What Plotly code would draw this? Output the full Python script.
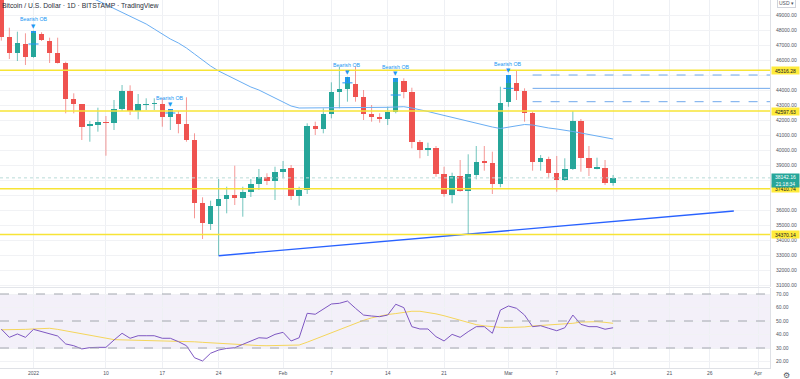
import pandas as pd
import plotly.graph_objects as go

# ---------------- data ----------------
dates = pd.date_range("2021-12-28", periods=77, freq="D")

opens = [50640, 47553, 46487, 47047, 46180, 47713, 47267, 46447, 45820, 43380,
         43047, 41600, 41687, 41867, 41780, 42733, 43953, 42580, 43020, 43080,
         43067, 42220, 42380, 41713, 40667, 36447, 35067, 36267, 36733, 36980,
         36820, 37180, 37733, 38180, 37953, 38513, 38820, 36953, 37333, 41600,
         41400, 42400, 43887, 44067, 44400, 43513, 42380, 42220, 42067, 42553,
         44600, 43887, 40513, 40000, 40113, 38380, 37000, 38267, 37287, 38333,
         39267, 39153, 37733, 43220, 44447, 43933, 42487, 39180, 39400, 38447,
         38000, 38733, 41953, 39447, 38753, 38820, 37780]
highs = [50700, 48153, 47887, 47780, 47953, 47850, 47487, 47487, 45887, 43780,
         43067, 41933, 42820, 42267, 43333, 44333, 44313, 43733, 43447, 43447,
         43447, 42713, 42600, 43513, 41113, 36847, 36620, 38067, 37553, 38953,
         37553, 38067, 38733, 38447, 38887, 39267, 39000, 37553, 41780, 41887,
         42780, 44513, 45553, 44887, 45553, 44000, 43000, 42447, 42887, 44780,
         44780, 44153, 40667, 40487, 40267, 38887, 38487, 39333, 39713, 40267,
         40267, 39887, 44220, 45000, 45316, 44113, 42553, 39667, 39553, 39600,
         39447, 42600, 42067, 40267, 39487, 39333, 38333]
lows = [47290, 46067, 45933, 45667, 46153, 47267, 45800, 45767, 42447, 42447,
        40667, 40553, 41220, 39620, 41333, 42600, 42333, 42047, 42667, 42667,
        41553, 41333, 41113, 40553, 35447, 34067, 34667, 32953, 35780, 36333,
        35553, 36867, 37333, 37667, 36667, 38113, 36667, 36287, 37067, 41000,
        41113, 42113, 42780, 43220, 43220, 42000, 41887, 41820, 41667, 42447,
        43447, 40113, 39447, 39600, 38220, 36887, 36447, 37220, 34330, 38047,
        38620, 37067, 37513, 42887, 43333, 41887, 38620, 38620, 38113, 37220,
        37933, 38667, 38553, 38267, 38713, 37667, 37620]
closes = [47533, 46487, 47113, 46180, 47780, 47333, 46447, 45820, 43420, 43067,
          41553, 41733, 41887, 41833, 42733, 43953, 42600, 43067, 43080, 43133,
          42220, 42553, 41733, 40667, 36487, 35113, 36287, 36733, 36980, 36820,
          37220, 37733, 38180, 37953, 38513, 38733, 36953, 37333, 41600, 41420,
          42400, 43847, 44067, 44447, 43513, 42400, 42220, 42067, 42553, 44553,
          43887, 40553, 40000, 40113, 38380, 37067, 38267, 37287, 38400, 39220,
          39153, 37713, 43153, 44447, 43933, 42487, 39180, 39447, 38447, 38000,
          38733, 41953, 39447, 38780, 38847, 37820, 38142.16]

ma_values = [None] * 11 + [
    50200, 49967, 49700, 49433, 49167, 48933, 48667, 48400, 48067, 47733,
    47400, 47133, 46800, 46400, 46000, 45600, 45267, 45000, 44733, 44467,
    44200, 44000, 43733, 43467, 43200, 42933, 42800, 42800, 42800, 42820,
    42833, 42833, 42833, 42847, 42820, 42800, 42820, 42847, 42867, 42887,
    42800, 42700, 42567, 42433, 42300, 42200, 42067, 41933, 41800, 41667,
    41533, 41433, 41533, 41633, 41700, 41667, 41553, 41467, 41400, 41333,
    41233, 41133, 41033, 40933, 40833, 40733]

rsi_values = [44.0, 37.9, 40.4, 37.9, 43.8, 42.1, 40.4, 38.9, 33.0, 31.7,
              29.3, 30.3, 30.5, 30.5, 35.9, 40.9, 37.2, 39.1, 39.1, 39.1,
              37.2, 37.2, 34.7, 31.7, 22.8, 20.4, 26.1, 28.5, 29.7, 30.2,
              32.7, 35.4, 37.6, 37.2, 40.1, 41.6, 35.2, 37.6, 55.7, 55.0,
              58.9, 62.6, 63.1, 64.8, 59.4, 54.4, 53.7, 53.2, 54.4, 62.4,
              59.9, 45.8, 44.1, 44.1, 38.4, 35.2, 40.1, 37.9, 42.1, 45.8,
              45.8, 40.9, 58.1, 61.1, 59.4, 54.4, 45.8, 46.5, 44.6, 42.8,
              45.0, 54.4, 47.5, 45.8, 45.8, 43.9, 45.0]
rsi_ma_values = [43.5, 43.5, 43.6, 43.8, 44.1, 44.5, 44.6, 43.8, 42.7, 41.6,
                 40.4, 39.3, 37.9, 36.8, 36.2, 36.0, 35.9, 35.8, 35.6, 35.5,
                 35.3, 35.2, 35.0, 34.8, 34.6, 34.2, 33.8, 33.4, 33.0, 32.5,
                 32.1, 31.9, 31.8, 31.7, 31.8, 31.9, 32.0, 32.2, 34.3, 36.6,
                 39.0, 41.5, 43.8, 46.2, 48.5, 50.5, 52.3, 53.8, 54.8, 55.5,
                 56.5, 57.2, 57.2, 56.4, 55.3, 53.9, 52.3, 50.4, 48.6, 47.3,
                 46.4, 45.8, 45.3, 45.2, 45.3, 45.6, 46.3, 46.6, 47.0, 47.3,
                 47.7, 48.3, 49.2, 49.5, 49.5, 49.0, 48.3]

ob_dates = ["2022-01-01", "2022-01-18", "2022-02-09", "2022-02-15", "2022-03-01"]
ob_ext_start = "2022-03-04"
level_values = [45316.28, 42597.63, 37410.74, 34370.14]
level_labels = ["45316.28", "42597.63", "37410.74", "34370.14"]
last_price = 38142.16
countdown = "21:18:34"
trend_dates = ["2022-01-24", "2022-03-29"]
trend_prices = [32953, 35933]

price_ticks = list(range(31000, 50000, 1000))
price_hidden = [45000, 38000, 37000]
rsi_ticks = [20, 30, 40, 50, 60, 70]
rsi_bands = [30, 50, 70]

x_tick_dates = ["2022-01-01", "2022-01-10", "2022-01-17", "2022-01-24", "2022-02-01",
                "2022-02-07", "2022-02-14", "2022-02-21", "2022-03-01", "2022-03-07",
                "2022-03-14", "2022-03-21", "2022-03-26", "2022-04-01"]
x_tick_text = ["2022", "10", "17", "24", "Feb", "7", "14", "21", "Mar", "7",
               "14", "21", "26", "Apr"]

title_text = "Bitcoin / U.S. Dollar · 1D · BITSTAMP · TradingView"

# ---------------- styling constants ----------------
GREEN = "#26a69a"
RED = "#ef5350"
BLUE = "#2196f3"
YELLOW = "#f7e436"
FONT = "Liberation Sans, Arial, sans-serif"
AX_COLOR = "#50535e"
DAY_MS = 86400000

base_day = pd.Timestamp("2022-01-01")
x_start = base_day + pd.Timedelta(days=-33.5 / 8.05)
x_end = base_day + pd.Timedelta(days=(770 - 33.5) / 8.05)

plot_h = 368.0
main_dom = [(plot_h - 287) / plot_h, 1.0]
rsi_dom = [0.0, (plot_h - 288) / plot_h]
main_range = [50000 - 287 * 1000 / 15.0, 50000]
rsi_range = [70 - (368 - 294) / 1.35, 70 + (294 - 288) / 1.35]

fig = go.Figure()

# wicks
for col, wcol in ((GREEN, "rgba(38,166,154,0.65)"), (RED, "rgba(239,83,80,0.6)")):
    wx, wy = [], []
    for d, o, h, l, c in zip(dates, opens, highs, lows, closes):
        is_green = c >= o
        if (col == GREEN) == is_green:
            wx += [d, d, None]
            wy += [l, h, None]
    fig.add_trace(go.Scatter(x=wx, y=wy, mode="lines", line=dict(color=wcol, width=1),
                             hoverinfo="skip", xaxis="x", yaxis="y"))

# bodies
bases = [min(o, c) for o, c in zip(opens, closes)]
heights = [max(abs(c - o), 60) for o, c in zip(opens, closes)]
colors = [GREEN if c >= o else RED for o, c in zip(opens, closes)]
fig.add_trace(go.Bar(x=dates, y=heights, base=bases, width=0.68 * DAY_MS,
                     marker=dict(color=colors, line=dict(width=0)),
                     xaxis="x", yaxis="y", hoverinfo="skip"))

# Bearish OB highlights
idx = {d.strftime("%Y-%m-%d"): i for i, d in enumerate(dates)}
ob_i = [idx[d] for d in ob_dates]
fig.add_trace(go.Bar(x=[dates[i] for i in ob_i],
                     y=[highs[i] - closes[i] for i in ob_i],
                     base=[closes[i] for i in ob_i], width=0.68 * DAY_MS,
                     marker=dict(color=BLUE, line=dict(width=0)),
                     xaxis="x", yaxis="y", hoverinfo="skip"))
mx, my = [], []
for i in ob_i:
    mid = (opens[i] + highs[i]) / 2
    mx += [dates[i] - pd.Timedelta(hours=15), dates[i] + pd.Timedelta(hours=15), None]
    my += [mid, mid, None]
fig.add_trace(go.Scatter(x=mx, y=my, mode="lines", line=dict(color=BLUE, width=1),
                         xaxis="x", yaxis="y", hoverinfo="skip"))

# moving average
fig.add_trace(go.Scatter(x=dates, y=ma_values, mode="lines",
                         line=dict(color="#6aaef3", width=1),
                         xaxis="x", yaxis="y", hoverinfo="skip"))

# trend line
fig.add_trace(go.Scatter(x=pd.to_datetime(trend_dates), y=trend_prices, mode="lines",
                         line=dict(color="#2962ff", width=1.4),
                         xaxis="x", yaxis="y", hoverinfo="skip"))

# RSI
fig.add_trace(go.Scatter(x=dates, y=rsi_ma_values, mode="lines",
                         line=dict(color="rgba(244,208,63,0.85)", width=1),
                         xaxis="x", yaxis="y2", hoverinfo="skip"))
fig.add_trace(go.Scatter(x=dates, y=rsi_values, mode="lines",
                         line=dict(color="#7e57c2", width=1),
                         xaxis="x", yaxis="y2", hoverinfo="skip"))

shapes = []
shapes.append(dict(type="rect", xref="paper", yref="y2", x0=0, x1=1,
                   y0=min(rsi_bands), y1=max(rsi_bands),
                   fillcolor="rgba(126,87,194,0.09)", line=dict(width=0), layer="below"))
for b in rsi_bands:
    shapes.append(dict(type="line", xref="paper", yref="y2", x0=0, x1=1, y0=b, y1=b,
                       line=dict(color="#a3a6af", width=1, dash="dash")))
for lv in level_values:
    shapes.append(dict(type="line", xref="paper", yref="y", x0=0, x1=1, y0=lv, y1=lv,
                       line=dict(color=YELLOW, width=1.5)))
shapes.append(dict(type="line", xref="paper", yref="y", x0=0, x1=1,
                   y0=last_price, y1=last_price,
                   line=dict(color="#b9dcd8", width=1, dash="dot")))
li = ob_i[-1]
ext_levels = [(highs[li], "dash"), ((opens[li] + highs[li]) / 2, "solid"), (opens[li], "dash")]
for lv, ds in ext_levels:
    shapes.append(dict(type="line", xref="x", yref="y", x0=ob_ext_start, x1=x_end,
                       y0=lv, y1=lv,
                       line=dict(color="#6fa8ec", width=1, dash=ds)))
sep = (main_dom[0] + rsi_dom[1]) / 2
shapes.append(dict(type="line", xref="paper", yref="paper", x0=0, x1=1,
                   y0=sep, y1=sep, line=dict(color="#e3e5ea", width=1)))

annotations = []
annotations.append(dict(xref="paper", yref="paper", x=0, y=1, xanchor="left", yanchor="top",
                        text=title_text, showarrow=False, yshift=0,
                        font=dict(family=FONT, size=6.8, color="#2a2e39")))
for i in ob_i:
    annotations.append(dict(x=dates[i], y=highs[i], xref="x", yref="y", text="▼",
                            showarrow=False, yshift=5,
                            font=dict(family="DejaVu Sans", size=5.5, color=BLUE)))
    annotations.append(dict(x=dates[i], y=highs[i], xref="x", yref="y", text="Bearish OB",
                            showarrow=False, yshift=11.5,
                            font=dict(family=FONT, size=5.3, color=BLUE)))
for lv, lt in zip(level_values, level_labels):
    annotations.append(dict(xref="paper", yref="y", x=1, y=lv, xanchor="left", xshift=1,
                            text=lt, showarrow=False, bgcolor="#ffeb3b", borderpad=0,
                            width=27, height=7,
                            font=dict(family=FONT, size=5, color="#131722")))
annotations.append(dict(xref="paper", yref="y", x=1, y=last_price, xanchor="left",
                        yanchor="top", yshift=4.5, xshift=1,
                        text=f"{last_price:.2f}<br>{countdown}", showarrow=False,
                        bgcolor=GREEN, borderpad=0, align="center", width=27, height=13,
                        font=dict(family=FONT, size=5, color="white")))
annotations.append(dict(xref="paper", yref="paper", x=1, y=1, xanchor="left", yanchor="top",
                        xshift=7, yshift=2, text="USD ▾", showarrow=False,
                        bordercolor="#d1d4dc", borderwidth=1, borderpad=1,
                        font=dict(family=FONT, size=5, color=AX_COLOR)))
annotations.append(dict(xref="paper", yref="paper", x=1, y=0, xanchor="left", yanchor="top",
                        xshift=11, yshift=-1, text="⚙", showarrow=False,
                        font=dict(family="DejaVu Sans", size=8, color=AX_COLOR)))

price_text = ["" if v in price_hidden else f"{v:.2f}" for v in price_ticks]

fig.update_layout(
    width=800, height=379,
    margin=dict(l=0, r=30, t=0, b=11),
    plot_bgcolor="white", paper_bgcolor="white",
    showlegend=False, barmode="overlay", bargap=0, hovermode=False,
    font=dict(family=FONT, size=5, color=AX_COLOR),
    shapes=shapes, annotations=annotations,
    xaxis=dict(type="date", range=[x_start, x_end], domain=[0, 1], anchor="y2",
               tickvals=pd.to_datetime(x_tick_dates), ticktext=x_tick_text,
               showgrid=True, gridcolor="#eef0f4", gridwidth=1, ticks="",
               showline=True, linecolor="#dfe1e6", zeroline=False,
               tickfont=dict(family=FONT, size=5, color=AX_COLOR)),
    yaxis=dict(domain=main_dom, range=main_range, side="right", anchor="x",
               tickvals=price_ticks, ticktext=price_text, showgrid=True,
               gridcolor="#f1f2f5", ticks="", showline=True, linecolor="#dfe1e6",
               zeroline=False, ticklabelstandoff=4,
               tickfont=dict(family=FONT, size=5, color=AX_COLOR)),
    yaxis2=dict(domain=rsi_dom, range=rsi_range, side="right", anchor="x",
                tickvals=rsi_ticks, ticktext=[f"{v:.2f}" for v in rsi_ticks],
                showgrid=True, gridcolor="#f1f2f5", ticks="", showline=True,
                linecolor="#dfe1e6", zeroline=False, ticklabelstandoff=4,
                tickfont=dict(family=FONT, size=5, color=AX_COLOR)),
)

fig.write_html("out.html", config={"displayModeBar": False, "staticPlot": True},
               post_script="document.body.style.margin='0';")
